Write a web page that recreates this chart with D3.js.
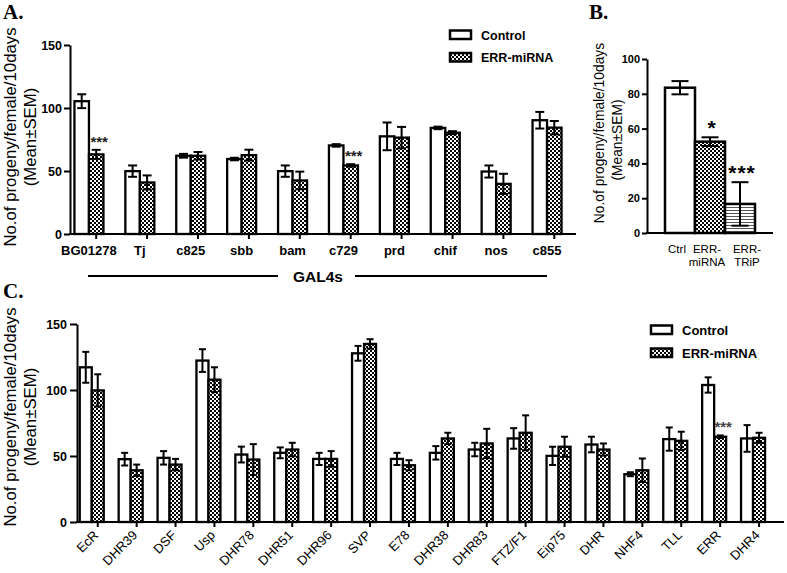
<!DOCTYPE html>
<html>
<head>
<meta charset="utf-8">
<script src="https://cdn.jsdelivr.net/npm/d3@7"></script>
<style>
  body { margin: 0; background: #fff; }
  svg { display: block; }
  text { font-family: "Liberation Sans", Arial, sans-serif; }
</style>
</head>
<body>
<svg id="fig" width="787" height="573"></svg>
<script>
// ---- data ----
var series = ["Control", "ERR-miRNA"];

// panel A : GAL4 drivers
var catsA = ["BG01278", "Tj", "c825", "sbb", "bam", "c729", "prd", "chif", "nos", "c855"];
var ctrlA = [105.4, 49.9, 62.1, 59.5, 49.9, 70.3, 77.5, 84.2, 49.6, 90.3];
var ctrlSemA = [5.5, 4.5, 1.5, 1, 4.5, 1, 11, 1, 4.8, 6.6];
var errA = [63.2, 40.9, 62.1, 62.6, 42.5, 54.4, 76.5, 80.4, 39.8, 84.4];
var errSemA = [3.6, 5.6, 3, 4.3, 7, 1, 8.5, 1.2, 8, 5.3];
var sigA = ["***", "", "", "", "", "***", "", "", "", ""];
var ticksA = [0, 50, 100, 150];

// panel B
var catsB = ["Ctrl", "ERR-miRNA", "ERR-TRiP"];
var labelsB = [["Ctrl"], ["ERR-", "miRNA"], ["ERR-", "TRiP"]];
var valB = [83.5, 52.5, 16.7];
var semB = [3.8, 2.5, 12.5];
var sigB = ["", "*", "***"];
var ticksB = [0, 20, 40, 60, 80, 100];

// panel C : nuclear receptors
var catsC = ["EcR", "DHR39", "DSF", "Usp", "DHR78", "DHR51", "DHR96", "SVP", "E78", "DHR38",
             "DHR83", "FTZ/F1", "Eip75", "DHR", "NHF4", "TLL", "ERR", "DHR4"];
var ctrlC = [117.2, 47.6, 48.6, 122.3, 51.1, 52.4, 47.8, 127.8, 47.8, 52.4,
             54.9, 63.3, 50.1, 58.7, 36.2, 62.8, 103.8, 63.3];
var ctrlSemC = [11.7, 4.8, 5.1, 8.6, 6, 4.1, 4.6, 5.6, 4.6, 5.1,
                5.1, 7.8, 6.9, 5.9, 1.5, 8.8, 5.8, 10.1];
var errC = [99.7, 39.2, 43.5, 107.8, 47.3, 54.9, 47.8, 134.9, 43, 63.3,
            59.5, 67.6, 57, 54.9, 39.2, 61.5, 64.6, 63.8];
var errSemC = [12.2, 4.3, 4.3, 9.4, 11.7, 5.1, 5.9, 3.6, 3.8, 4.3,
               11.1, 13.2, 7.6, 4.6, 8.9, 6.9, 1, 3.8];
var sigC = ["", "", "", "", "", "", "", "", "", "", "", "", "", "", "", "", "***", ""];
var ticksC = [0, 50, 100, 150];

var svg = d3.select("#fig");
var defs = svg.append("defs");

var chk = defs.append("pattern").attr("id", "checker")
  .attr("patternUnits", "userSpaceOnUse").attr("width", 4).attr("height", 4);
chk.append("rect").attr("width", 4).attr("height", 4).attr("fill", "#fff");
chk.append("rect").attr("width", 2).attr("height", 2).attr("fill", "#000");
chk.append("rect").attr("x", 2).attr("y", 2).attr("width", 2).attr("height", 2).attr("fill", "#000");

var hl = defs.append("pattern").attr("id", "hlines")
  .attr("patternUnits", "userSpaceOnUse").attr("width", 4).attr("height", 3);
hl.append("rect").attr("width", 4).attr("height", 3).attr("fill", "#fff");
hl.append("rect").attr("width", 4).attr("height", 1).attr("fill", "#555");

function errorBar(g, cx, y, v, sem, capW) {
  g.append("line").attr("x1", cx).attr("x2", cx)
    .attr("y1", y(v - sem)).attr("y2", y(v + sem))
    .style("stroke", "#000").style("stroke-width", 2);
  [v - sem, v + sem].forEach(function(e) {
    g.append("line").attr("x1", cx - capW / 2).attr("x2", cx + capW / 2)
      .attr("y1", y(e)).attr("y2", y(e))
      .style("stroke", "#000").style("stroke-width", 2);
  });
}

function styleAxis(ax, size, weight) {
  ax.attr("font-family", "Liberation Sans, Arial, sans-serif");
  ax.selectAll("path").style("stroke", "#000").style("stroke-width", 2);
  ax.selectAll("line").style("stroke", "#000").style("stroke-width", 2);
  ax.selectAll("text").style("font-size", size + "px").style("font-weight", weight).style("fill", "#000");
}

function yTitle(g, x1, x2, cy1, cy2, size) {
  g.append("text").attr("transform", "translate(" + x1 + "," + cy1 + ") rotate(-90)")
    .attr("text-anchor", "middle").style("font-size", size + "px").text("No.of progeny/female/10days");
  g.append("text").attr("transform", "translate(" + x2 + "," + cy2 + ") rotate(-90)")
    .attr("text-anchor", "middle").style("font-size", size + "px").text("(Mean\u00b1SEM)");
}

function legend(g, x, y1, y2, size) {
  [y1, y2].forEach(function(yy, k) {
    g.append("rect").attr("x", x).attr("y", yy - 4.5).attr("width", 21).attr("height", 8.5)
      .style("fill", k === 0 ? "#fff" : "url(#checker)").style("stroke", "#000").style("stroke-width", 2.5);
    g.append("text").attr("x", x + 31).attr("y", yy + 4.5)
      .style("font-size", size + "px").style("font-weight", "bold").text(series[k]);
  });
}

function grouped(g, cats, vals, sems, sig, x, sub, y, capW, sigSize, sigColor) {
  cats.forEach(function(c, i) {
    series.forEach(function(s, k) {
      var v = vals[k][i];
      var x0 = x(c) + x.bandwidth() / 2 + sub(s);
      g.append("rect").attr("x", x0).attr("y", y(v))
        .attr("width", sub.bandwidth()).attr("height", y(0) - y(v))
        .style("fill", k === 0 ? "#fff" : "url(#checker)")
        .style("stroke", "#000").style("stroke-width", 2.3);
      errorBar(g, x0 + sub.bandwidth() / 2, y, v, sems[k][i], capW);
      if (k === 1 && sig[i]) {
        g.append("text").attr("x", x0 + sub.bandwidth() / 2 + 3).attr("y", y(v + sems[k][i]) - 3)
          .attr("text-anchor", "middle").style("font-size", sigSize + "px")
          .style("font-weight", "bold").style("fill", sigColor).text(sig[i]);
      }
    });
  });
}

// ================= Panel A =================
var gA = svg.append("g");
var xA = d3.scaleBand().domain(catsA).range([63.5, 572.5]);
var subA = d3.scaleBand().domain(series).range([-14.5, 14.5]);
var yA = d3.scaleLinear().domain([0, 150]).range([234, 45]);

grouped(gA, catsA, [ctrlA, errA], [ctrlSemA, errSemA], sigA, xA, subA, yA, 9, 15, "#222");

var axYA = gA.append("g").attr("transform", "translate(70,0)")
  .call(d3.axisLeft(yA).tickValues(ticksA).tickSize(6).tickSizeOuter(0).tickPadding(2));
styleAxis(axYA, 12.5, "bold");

var axXA = gA.append("g").attr("transform", "translate(0,234)")
  .call(d3.axisBottom(xA).tickSize(5).tickSizeOuter(0).tickPadding(7));
styleAxis(axXA, 13, "bold");
axXA.select(".domain").remove();
axXA.selectAll(".tick line").attr("transform", "translate(" + subA.bandwidth() / 2 + ",0)");
gA.append("line").attr("x1", 69).attr("x2", 576).attr("y1", 234).attr("y2", 234)
  .style("stroke", "#000").style("stroke-width", 2);

yTitle(gA, 16, 36, 137, 137, 16.8);
legend(gA, 450, 35, 57.5, 12.5);

gA.append("line").attr("x1", 88).attr("x2", 278).attr("y1", 276).attr("y2", 276)
  .style("stroke", "#000").style("stroke-width", 2.2);
gA.append("line").attr("x1", 355).attr("x2", 547).attr("y1", 276).attr("y2", 276)
  .style("stroke", "#000").style("stroke-width", 2.2);
gA.append("text").attr("x", 318).attr("y", 282).attr("text-anchor", "middle")
  .style("font-size", "15.5px").style("font-weight", "bold").text("GAL4s");

// ================= Panel B =================
var gB = svg.append("g");
var xB = d3.scaleBand().domain(catsB).range([665, 755]);
var yB = d3.scaleLinear().domain([0, 100]).range([233, 59]);
var fillsB = ["#fff", "url(#checker)", "url(#hlines)"];

catsB.forEach(function(c, i) {
  gB.append("rect").attr("x", xB(c)).attr("y", yB(valB[i]))
    .attr("width", xB.bandwidth()).attr("height", yB(0) - yB(valB[i]))
    .style("fill", fillsB[i]).style("stroke", "#000").style("stroke-width", 2.5);
  errorBar(gB, xB(c) + xB.bandwidth() / 2, yB, valB[i], semB[i], 17);
  if (sigB[i]) {
    gB.append("text").attr("x", xB(c) + xB.bandwidth() / 2 + 2).attr("y", yB(valB[i] + semB[i]) - 2)
      .attr("text-anchor", "middle").style("font-size", "21px").style("font-weight", "bold")
      .style("letter-spacing", "1px").text(sigB[i]);
  }
  // labels sit a little off the bar centres in the original
  var lx = xB(c) + xB.bandwidth() / 2 + (i === 2 ? 7 : -3);
  labelsB[i].forEach(function(t, j) {
    gB.append("text").attr("x", lx).attr("y", 253 + j * 13)
      .attr("text-anchor", "middle").style("font-size", "11.5px").text(t);
  });
});

var axYB = gB.append("g").attr("transform", "translate(647,0)")
  .call(d3.axisLeft(yB).tickValues(ticksB).tickSize(5).tickSizeOuter(0).tickPadding(2));
styleAxis(axYB, 11, "bold");
gB.append("line").attr("x1", 646).attr("x2", 773).attr("y1", 233).attr("y2", 233)
  .style("stroke", "#000").style("stroke-width", 2);

yTitle(gB, 604, 622, 133, 140, 13.8);

// ================= Panel C =================
var gC = svg.append("g");
var xC = d3.scaleBand().domain(catsC).range([72.3, 772.5]);
var subC = d3.scaleBand().domain(series).range([-12, 12]);
var yC = d3.scaleLinear().domain([0, 150]).range([522, 324]);

grouped(gC, catsC, [ctrlC, errC], [ctrlSemC, errSemC], sigC, xC, subC, yC, 7, 15, "#444");

var axYC = gC.append("g").attr("transform", "translate(77,0)")
  .call(d3.axisLeft(yC).tickValues(ticksC).tickSize(7).tickSizeOuter(0).tickPadding(3));
styleAxis(axYC, 12.5, "bold");

var axXC = gC.append("g").attr("transform", "translate(0,522)")
  .call(d3.axisBottom(xC).tickSize(5).tickSizeOuter(0));
styleAxis(axXC, 13, "normal");
axXC.select(".domain").remove();
axXC.selectAll(".tick line").attr("transform", "translate(" + subC.bandwidth() / 2 + ",0)");
axXC.selectAll(".tick text")
  .attr("x", 0).attr("y", 0).attr("dy", 0)
  .attr("text-anchor", "end")
  .attr("transform", "translate(" + (subC.bandwidth() / 2 + 1.5) + ",14) rotate(-45)");
gC.append("line").attr("x1", 76).attr("x2", 784).attr("y1", 522).attr("y2", 522)
  .style("stroke", "#000").style("stroke-width", 2);

yTitle(gC, 16, 36, 417, 417, 16.8);
legend(gC, 651, 330, 353, 13);

// panel letters
[["A.", 3, 19], ["B.", 589, 19], ["C.", 3, 298]].forEach(function(p) {
  svg.append("text").attr("x", p[1]).attr("y", p[2])
    .style("font-family", "Liberation Serif, Times New Roman, serif")
    .style("font-size", "21px").style("font-weight", "bold").text(p[0]);
});
</script>
</body>
</html>
